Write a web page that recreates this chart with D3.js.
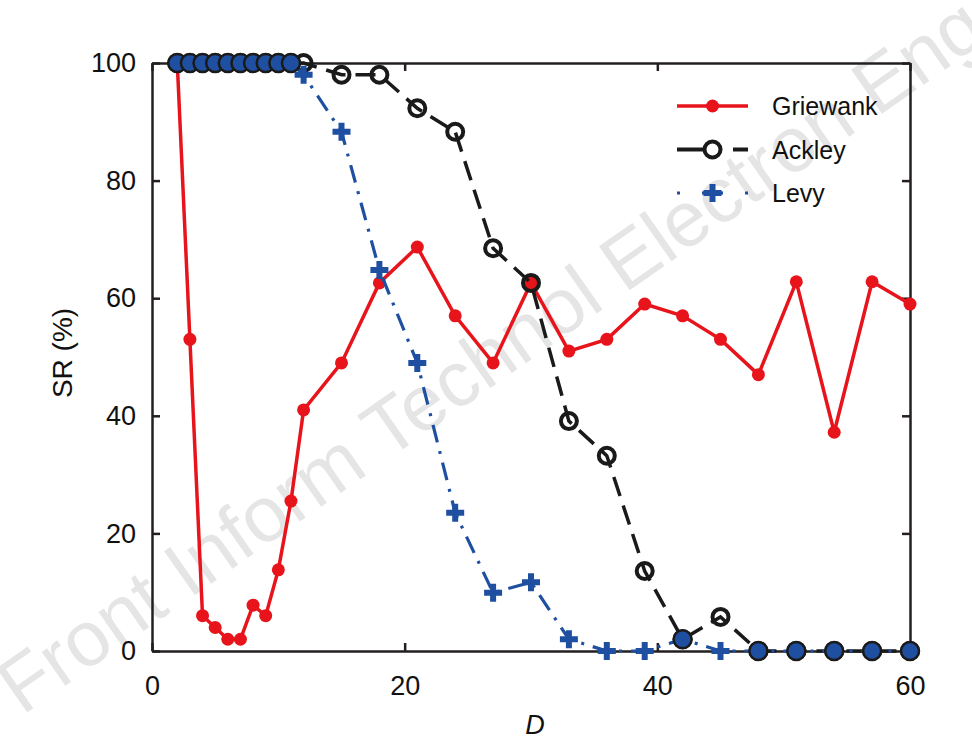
<!DOCTYPE html>
<html>
<head>
<meta charset="utf-8">
<script src="https://cdn.jsdelivr.net/npm/d3@7"></script>
<style>
  body { margin: 0; background: #fff; }
  svg { display: block; font-family: "Liberation Sans", Arial, sans-serif; }
</style>
</head>
<body>
<main></main>
<script>
// dimension D and success rates (%)
const dims = [2, 3, 4, 5, 6, 7, 8, 9, 10, 11, 12, 15, 18, 21, 24, 27, 30, 33, 36, 39, 42, 45, 48, 51, 54, 57, 60];
const griewank = [100, 53, 6, 4, 2, 2, 7.8, 6, 13.8, 25.5, 41, 49, 62.6, 68.7, 57, 49, 62.6, 51, 53, 59, 57, 53, 47, 62.8, 37.2, 62.8, 59];
const ackley = [100, 100, 100, 100, 100, 100, 100, 100, 100, 100, 100, 98, 98, 92.3, 88.3, 68.5, 62.6, 39.1, 33.2, 13.6, 2, 5.8, 0, 0, 0, 0, 0];
const levy = [100, 100, 100, 100, 100, 100, 100, 100, 100, 100, 98, 88.3, 64.8, 49, 23.5, 9.9, 11.7, 2, 0, 0, 2, 0, 0, 0, 0, 0, 0];
const xTicks = [0, 20, 40, 60];
const yTicks = [0, 20, 40, 60, 80, 100];
const seriesNames = ["Griewank", "Ackley", "Levy"];

const W = 972, H = 741;
const RED = "#e8141c", BLACK = "#1a1a1a", BLUE = "#1f4fa0", AXIS = "#231f20";

const svg = d3.select('main').append('svg')
  .attr('width', W)
  .attr('height', H);

const x = d3.scaleLinear().domain([0, 60]).range([152, 910]);
const y = d3.scaleLinear().domain([0, 100]).range([651, 63]);

// watermark
svg.append('text')
  .attr('transform', 'translate(22,716) rotate(-35)')
  .style('font-size', '78px')
  .attr('fill', '#dcdcdc')
  .attr('fill-opacity', 0.75)
  .text('Front Inform Technol Electron Eng');

// axes (box with inward ticks)
const axG = svg.append('g').attr('class', 'axes');
axG.append('g')
  .attr('transform', 'translate(0,' + y(0) + ')')
  .call(d3.axisBottom(x).tickValues(xTicks).tickSize(-8).tickSizeOuter(0).tickPadding(25));
axG.append('g')
  .attr('transform', 'translate(' + x(0) + ',0)')
  .call(d3.axisLeft(y).tickValues(yTicks).tickSize(-8).tickSizeOuter(0).tickPadding(16));
axG.append('g')
  .attr('transform', 'translate(0,' + y(100) + ')')
  .call(d3.axisTop(x).tickValues(xTicks).tickSize(-8).tickSizeOuter(0).tickFormat(''));
axG.append('g')
  .attr('transform', 'translate(' + x(60) + ',0)')
  .call(d3.axisRight(y).tickValues(yTicks).tickSize(-8).tickSizeOuter(0).tickFormat(''));

axG.selectAll('.domain, .tick line').attr('stroke', AXIS).attr('stroke-width', 2.5);
axG.selectAll('.tick text')
  .attr('fill', '#111')
  .style('font-size', '27px')
  .style('font-family', '"Liberation Sans", Arial, sans-serif');

// axis titles
svg.append('text')
  .attr('transform', 'translate(72,353) rotate(-90)')
  .attr('text-anchor', 'middle')
  .style('font-size', '28px')
  .attr('fill', '#111')
  .text('SR (%)');
svg.append('text')
  .attr('x', x(30) + 4)
  .attr('y', 734)
  .attr('text-anchor', 'middle')
  .style('font-size', '27px')
  .style('font-style', 'italic')
  .attr('fill', '#111')
  .text('D');

const line = d3.line().x(d => x(d[0])).y(d => y(d[1]));
const pts = vals => dims.map((d, i) => [d, vals[i]]);

const plot = svg.append('g').attr('class', 'plot');

// Griewank
plot.append('path')
  .datum(pts(griewank))
  .attr('d', line)
  .attr('fill', 'none')
  .attr('stroke', RED)
  .attr('stroke-width', 3.5);
plot.selectAll('.gm')
  .data(pts(griewank))
  .enter().append('circle')
  .attr('cx', d => x(d[0]))
  .attr('cy', d => y(d[1]))
  .attr('r', 6.5)
  .attr('fill', RED);

// Ackley
plot.append('path')
  .datum(pts(ackley))
  .attr('d', line)
  .attr('fill', 'none')
  .attr('stroke', BLACK)
  .attr('stroke-width', 3.5)
  .attr('stroke-dasharray', '20,10');
plot.selectAll('.am')
  .data(pts(ackley))
  .enter().append('circle')
  .attr('cx', d => x(d[0]))
  .attr('cy', d => y(d[1]))
  .attr('r', 8)
  .attr('fill', 'none')
  .attr('stroke', BLACK)
  .attr('stroke-width', 4);

// Levy
plot.append('path')
  .datum(pts(levy))
  .attr('d', line)
  .attr('fill', 'none')
  .attr('stroke', BLUE)
  .attr('stroke-width', 3.2)
  .attr('stroke-dasharray', '18,9,3,9');

const plus = d3.symbol().type(d3.symbolCross).size(180);
const levyPts = pts(levy).map((p, i) => ({ p: p, same: ackley[i] === levy[i] }));
plot.selectAll('.lc')
  .data(levyPts.filter(d => d.same))
  .enter().append('circle')
  .attr('cx', d => x(d.p[0]))
  .attr('cy', d => y(d.p[1]))
  .attr('r', 9)
  .attr('fill', BLUE)
  .attr('stroke', BLACK)
  .attr('stroke-width', 2.5);
plot.selectAll('.lp')
  .data(levyPts.filter(d => !d.same))
  .enter().append('path')
  .attr('d', plus)
  .attr('transform', d => 'translate(' + x(d.p[0]) + ',' + y(d.p[1]) + ')')
  .attr('fill', BLUE);

// legend
const legend = svg.append('g').attr('transform', 'translate(677,106)');
const rowH = 43.5;
seriesNames.forEach((name, i) => {
  const g = legend.append('g').attr('transform', 'translate(0,' + (i * rowH) + ')');
  if (i === 0) {
    g.append('line').attr('x1', 0).attr('x2', 71)
      .attr('stroke', RED).attr('stroke-width', 3.5);
    g.append('circle').attr('cx', 35.5).attr('r', 6.5).attr('fill', RED);
  } else if (i === 1) {
    g.append('line').attr('x1', 0).attr('x2', 29)
      .attr('stroke', BLACK).attr('stroke-width', 4);
    g.append('line').attr('x1', 56).attr('x2', 71)
      .attr('stroke', BLACK).attr('stroke-width', 4);
    g.append('circle').attr('cx', 35.5).attr('r', 8).attr('fill', 'none')
      .attr('stroke', BLACK).attr('stroke-width', 4);
  } else {
    g.append('line').attr('x1', 0).attr('x2', 3)
      .attr('stroke', BLUE).attr('stroke-width', 3);
    g.append('line').attr('x1', 68).attr('x2', 71)
      .attr('stroke', BLUE).attr('stroke-width', 3);
    g.append('line').attr('x1', 25).attr('x2', 46)
      .attr('stroke', BLUE).attr('stroke-width', 3.2);
    g.append('path').attr('d', plus).attr('transform', 'translate(35.5,0)').attr('fill', BLUE);
  }
  g.append('text')
    .attr('x', 95)
    .attr('y', 9)
    .style('font-size', '25px')
    .attr('fill', '#111')
    .text(name);
});
</script>
</body>
</html>
